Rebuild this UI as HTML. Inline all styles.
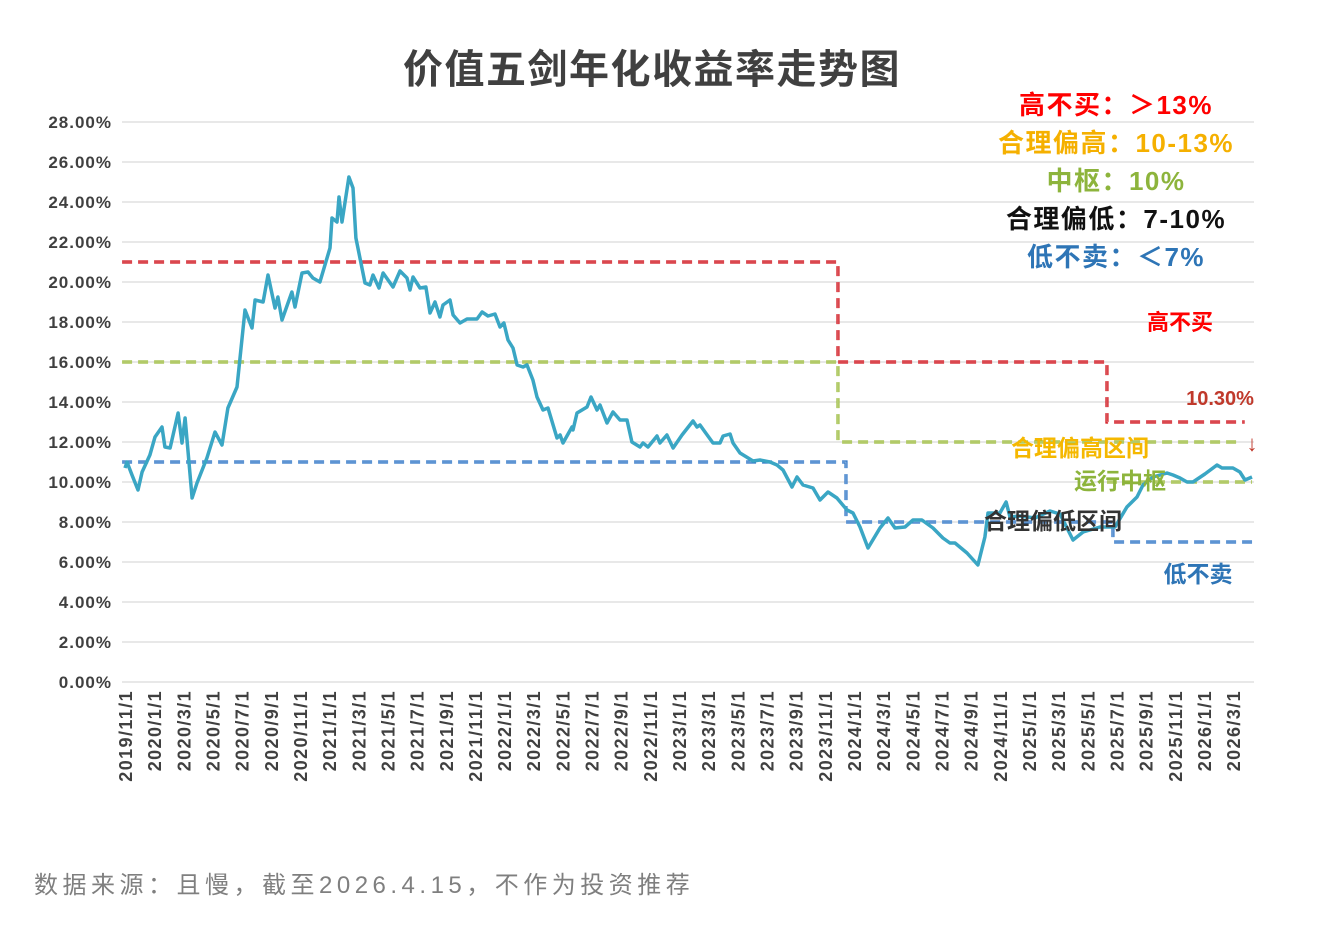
<!DOCTYPE html>
<html><head><meta charset="utf-8">
<style>
body{margin:0;background:#fff;width:1322px;height:920px;overflow:hidden;font-family:"Liberation Sans","Noto Sans CJK SC",sans-serif;}
svg text{font-family:"Liberation Sans","Noto Sans CJK SC",sans-serif;}
</style></head>
<body>
<svg id="chart" width="1322" height="920" xmlns="http://www.w3.org/2000/svg"></svg>
<script>
// months since 2019/11/1
const months=[0,0.14,0.48,0.89,1.17,1.71,2.06,2.54,2.74,3.09,3.64,3.91,4.12,4.6,4.94,5.62,6.17,6.65,7.06,7.68,8.23,8.71,8.92,9.47,9.81,10.29,10.49,10.77,11.45,11.66,12.14,12.55,12.89,13.37,14.06,14.2,14.54,14.68,14.88,15.36,15.64,15.84,16.46,16.8,17.01,17.42,17.7,18.38,18.86,19.34,19.55,19.75,20.23,20.64,20.92,21.26,21.6,21.81,22.29,22.5,22.98,23.46,24.14,24.49,24.9,25.38,25.72,25.99,26.27,26.61,26.89,27.3,27.57,27.98,28.26,28.67,29.01,29.63,29.84,30.04,30.66,30.73,31.0,31.69,31.96,32.37,32.58,33.06,33.47,33.95,34.43,34.77,35.32,35.53,35.87,36.49,36.69,37.17,37.59,38.2,38.96,39.23,39.44,39.78,40.33,40.81,41.02,41.5,41.7,42.18,43.07,43.55,44.24,44.72,45.13,45.75,46.09,46.5,47.19,47.67,48.22,48.83,49.52,49.93,50.41,50.96,51.78,52.33,52.81,53.5,54.05,54.66,55.42,56.1,56.58,56.93,57.75,58.5,58.98,59.19,60.01,60.43,60.7,61.39,62.41,63.44,64.13,65.02,65.71,66.87,67.9,68.72,69.41,69.82,70.51,71.47,71.88,72.36,72.84,73.25,74.07,74.9,75.24,75.99,76.47,76.82,77.3];
const values=[10.7,11.0,10.35,9.6,10.5,11.35,12.25,12.75,11.75,11.7,13.45,11.95,13.2,9.2,9.95,11.2,12.5,11.85,13.7,14.75,18.6,17.7,19.1,19.0,20.35,18.7,19.25,18.1,19.5,18.75,20.45,20.5,20.2,20.0,21.7,23.2,23.0,24.25,23.0,25.25,24.7,22.2,19.95,19.85,20.35,19.7,20.45,19.75,20.55,20.2,19.6,20.25,19.7,19.75,18.45,19.0,18.25,18.85,19.1,18.35,17.95,18.15,18.15,18.5,18.3,18.4,17.75,17.95,17.1,16.7,15.85,15.75,15.85,15.1,14.25,13.6,13.7,12.2,12.35,11.95,12.75,12.6,13.45,13.75,14.25,13.6,13.85,12.95,13.5,13.1,13.1,12.0,11.75,11.95,11.75,12.3,11.95,12.35,11.7,12.35,13.05,12.75,12.85,12.5,11.95,11.95,12.3,12.4,11.95,11.45,11.05,11.1,11.0,10.85,10.6,9.75,10.25,9.85,9.7,9.1,9.5,9.2,8.6,8.45,7.75,6.7,7.7,8.2,7.7,7.75,8.1,8.1,7.7,7.2,6.95,6.95,6.45,5.85,7.25,8.45,8.45,9.0,8.25,8.3,8.2,8.55,8.4,7.1,7.5,7.75,7.75,8.75,9.25,9.85,10.25,10.45,10.35,10.2,10.0,10.0,10.4,10.85,10.7,10.7,10.5,10.1,10.25];
const yTicks=[0,2,4,6,8,10,12,14,16,18,20,22,24,26,28];
const xTickLabels=[];
for(let y=2019,m=11;y<2026||(y===2026&&m<=3);){xTickLabels.push(y+'/'+m+'/1');m+=2;if(m>12){m-=12;y++;}}
// threshold step segments: [startMonth,endMonth,value]
const redSteps=[[-0.2,48.9,21],[48.9,67.35,16],[67.35,76.8,13]];
const greenSteps=[[-0.2,48.9,16],[48.9,76.5,12]];
const greenMid=[[67.35,77.3,10]];
const blueSteps=[[-0.2,49.45,11],[49.45,67.76,8],[67.76,77.3,7]];

const svg=document.getElementById('chart');
const NS='http://www.w3.org/2000/svg';
const X0=122,X1=1254,Y0=682;
const xs=m=>125+m*14.58;
const ys=v=>Y0-v*20;
function mk(t,a,p){const e=document.createElementNS(NS,t);for(const k in a)e.setAttribute(k,a[k]);(p||svg).appendChild(e);return e;}

yTicks.forEach(v=>{
  const g=mk('line',{x1:X0,x2:X1,y1:ys(v),y2:ys(v),stroke:'#d9d9d9','stroke-width':1.3});
  
  
  const t=mk('text',{x:112,y:ys(v)+6,'text-anchor':'end','font-size':17,'font-weight':'bold',fill:'#404040','letter-spacing':1});
  t.textContent=v.toFixed(2)+'%';
  
  
});
xTickLabels.forEach((l,i)=>{
  const x=xs(i*2);
  const t=mk('text',{x:0,y:0,transform:`translate(${x+7},690) rotate(-90)`,'text-anchor':'end','font-size':18,'font-weight':'bold',fill:'#404040','letter-spacing':1.4});
  t.textContent=l;
  
  
});

function steps(arr,color,name){
  let d='';
  arr.forEach((s,i)=>{
    if(i===0)d+=`M${xs(s[0])},${ys(s[2])}`;
    else d+=`L${xs(s[0])},${ys(s[2])}`;
    d+=`L${xs(s[1])},${ys(s[2])}`;
  });
  const p=mk('path',{d:d,fill:'none',stroke:color,'stroke-width':3.2,'stroke-dasharray':'10,6'});
  
  
  const p2=mk('path',{d:d,fill:'none',stroke:'#fff','stroke-width':0.8,'stroke-dasharray':'10,6','stroke-opacity':0.6});
  
  
}
steps(redSteps,'#d0121b','red-threshold-line');
steps(greenSteps,'#9bbb3c','green-threshold-line');
steps(greenMid,'#9bbb3c','mid-threshold-line');
steps(blueSteps,'#2e75c6','blue-threshold-line');

let d='';
months.forEach((m,i)=>{d+=(i?'L':'M')+xs(m).toFixed(1)+','+ys(values[i]).toFixed(1);});
const line=mk('path',{d:d,fill:'none',stroke:'#3aa6c4','stroke-width':3.5,'stroke-linejoin':'round'});



function txt(x,y,s,size,color,name,anchor,weight,ls){
  const t=mk('text',{x:x,y:y,'font-size':size,fill:color,'font-weight':weight||'bold','text-anchor':anchor||'middle','letter-spacing':ls||0});
  t.textContent=s;
  
  
  return t;
}
txt(652,83,'价值五剑年化收益率走势图',40,'#404040','chart-title','middle','bold',1.5);
txt(1116,114,'高不买：＞13%',26,'#ff0000','legend-high','middle','bold',1.5);
txt(1116,152,'合理偏高：10-13%',26,'#f5b000','legend-fair-high','middle','bold',1.5);
txt(1116,190,'中枢：10%',26,'#8db43c','legend-mid','middle','bold',1.5);
txt(1116,228,'合理偏低：7-10%',26,'#111','legend-fair-low','middle','bold',1.5);
txt(1116,266,'低不卖：＜7%',26,'#2e75b6','legend-low','middle','bold',1.5);
txt(1180,330,'高不买',22,'#ff0000','label-high');
txt(1220,405,'10.30%',20,'#c0392b','label-current');
txt(1252,451,'↓',22,'#c0392b','current-arrow');
txt(1080,456,'合理偏高区间',23,'#f5b800','label-fair-high');
txt(1120,489,'运行中枢',23,'#8db43c','label-mid');
txt(1053,529,'合理偏低区间',23,'#333','label-fair-low');
txt(1198,582,'低不卖',23,'#2e75b6','label-low');
txt(34,893,'数据来源：且慢，截至2026.4.15，不作为投资推荐',24,'#7f7f7f','source-note','start','normal',4.5);
</script>
</body></html>
